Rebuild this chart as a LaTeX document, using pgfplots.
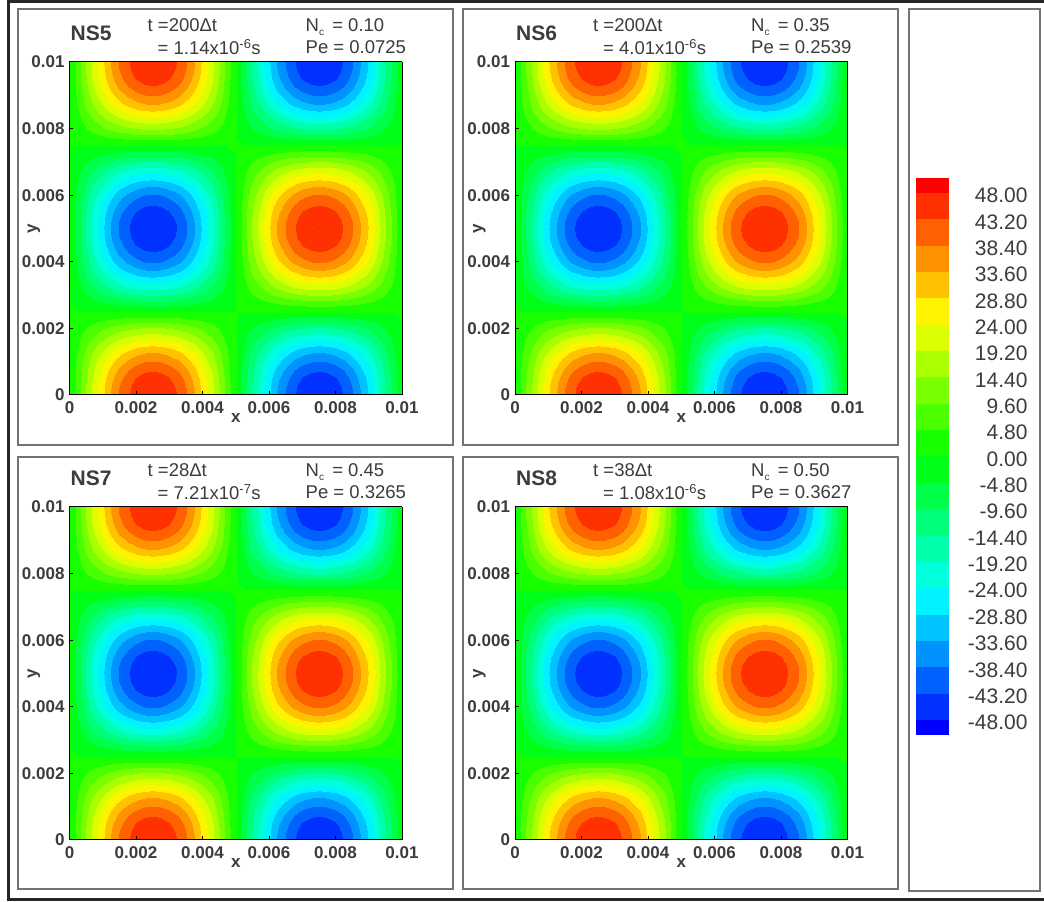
\documentclass[border=0pt]{standalone}
\usepackage{fontspec}
\setmainfont{Liberation Sans}
\usepackage{pgfplots}
\usepackage{pgfplotstable}
\pgfplotsset{compat=1.18}
\definecolor{txt}{RGB}{60,60,60}
\definecolor{frm}{RGB}{115,115,115}
% half rows of the field (x from 0 to just under 0.005), one per |cos| level; N = negated H
\def\Ha{0\\1.18\\2.32\\3.41\\4.41\\5.31\\6.08\\6.69\\7.14\\7.42\\7.51\\7.42\\7.14\\6.69\\6.08\\5.31\\4.41\\3.41\\2.32\\1.18\\}
\def\Na{0\\-1.18\\-2.32\\-3.41\\-4.41\\-5.31\\-6.08\\-6.69\\-7.14\\-7.42\\-7.51\\-7.42\\-7.14\\-6.69\\-6.08\\-5.31\\-4.41\\-3.41\\-2.32\\-1.18\\}
\def\Hb{0\\2.32\\4.58\\6.73\\8.72\\10.49\\12\\13.22\\14.11\\14.65\\14.83\\14.65\\14.11\\13.22\\12\\10.49\\8.72\\6.73\\4.58\\2.32\\}
\def\Nb{0\\-2.32\\-4.58\\-6.73\\-8.72\\-10.49\\-12\\-13.22\\-14.11\\-14.65\\-14.83\\-14.65\\-14.11\\-13.22\\-12\\-10.49\\-8.72\\-6.73\\-4.58\\-2.32\\}
\def\Hc{0\\3.41\\6.73\\9.89\\12.81\\15.41\\17.63\\19.42\\20.73\\21.52\\21.79\\21.52\\20.73\\19.42\\17.63\\15.41\\12.81\\9.89\\6.73\\3.41\\}
\def\Nc{0\\-3.41\\-6.73\\-9.89\\-12.81\\-15.41\\-17.63\\-19.42\\-20.73\\-21.52\\-21.79\\-21.52\\-20.73\\-19.42\\-17.63\\-15.41\\-12.81\\-9.89\\-6.73\\-3.41\\}
\def\Hd{0\\4.41\\8.72\\12.81\\16.58\\19.95\\22.83\\25.14\\26.83\\27.87\\28.21\\27.87\\26.83\\25.14\\22.83\\19.95\\16.58\\12.81\\8.72\\4.41\\}
\def\Nd{0\\-4.41\\-8.72\\-12.81\\-16.58\\-19.95\\-22.83\\-25.14\\-26.83\\-27.87\\-28.21\\-27.87\\-26.83\\-25.14\\-22.83\\-19.95\\-16.58\\-12.81\\-8.72\\-4.41\\}
\def\He{0\\5.31\\10.49\\15.41\\19.95\\24\\27.46\\30.24\\32.28\\33.52\\33.94\\33.52\\32.28\\30.24\\27.46\\24\\19.95\\15.41\\10.49\\5.31\\}
\def\Ne{0\\-5.31\\-10.49\\-15.41\\-19.95\\-24\\-27.46\\-30.24\\-32.28\\-33.52\\-33.94\\-33.52\\-32.28\\-30.24\\-27.46\\-24\\-19.95\\-15.41\\-10.49\\-5.31\\}
\def\Hf{0\\6.08\\12\\17.63\\22.83\\27.46\\31.42\\34.6\\36.93\\38.35\\38.83\\38.35\\36.93\\34.6\\31.42\\27.46\\22.83\\17.63\\12\\6.08\\}
\def\Nf{0\\-6.08\\-12\\-17.63\\-22.83\\-27.46\\-31.42\\-34.6\\-36.93\\-38.35\\-38.83\\-38.35\\-36.93\\-34.6\\-31.42\\-27.46\\-22.83\\-17.63\\-12\\-6.08\\}
\def\Hg{0\\6.69\\13.22\\19.42\\25.14\\30.24\\34.6\\38.11\\40.68\\42.24\\42.77\\42.24\\40.68\\38.11\\34.6\\30.24\\25.14\\19.42\\13.22\\6.69\\}
\def\Ng{0\\-6.69\\-13.22\\-19.42\\-25.14\\-30.24\\-34.6\\-38.11\\-40.68\\-42.24\\-42.77\\-42.24\\-40.68\\-38.11\\-34.6\\-30.24\\-25.14\\-19.42\\-13.22\\-6.69\\}
\def\Hh{0\\7.14\\14.11\\20.73\\26.83\\32.28\\36.93\\40.68\\43.42\\45.09\\45.65\\45.09\\43.42\\40.68\\36.93\\32.28\\26.83\\20.73\\14.11\\7.14\\}
\def\Nh{0\\-7.14\\-14.11\\-20.73\\-26.83\\-32.28\\-36.93\\-40.68\\-43.42\\-45.09\\-45.65\\-45.09\\-43.42\\-40.68\\-36.93\\-32.28\\-26.83\\-20.73\\-14.11\\-7.14\\}
\def\Hi{0\\7.42\\14.65\\21.52\\27.87\\33.52\\38.35\\42.24\\45.09\\46.83\\47.41\\46.83\\45.09\\42.24\\38.35\\33.52\\27.87\\21.52\\14.65\\7.42\\}
\def\Ni{0\\-7.42\\-14.65\\-21.52\\-27.87\\-33.52\\-38.35\\-42.24\\-45.09\\-46.83\\-47.41\\-46.83\\-45.09\\-42.24\\-38.35\\-33.52\\-27.87\\-21.52\\-14.65\\-7.42\\}
\def\Hj{0\\7.51\\14.83\\21.79\\28.21\\33.94\\38.83\\42.77\\45.65\\47.41\\48\\47.41\\45.65\\42.77\\38.83\\33.94\\28.21\\21.79\\14.83\\7.51\\}
\def\Nj{0\\-7.51\\-14.83\\-21.79\\-28.21\\-33.94\\-38.83\\-42.77\\-45.65\\-47.41\\-48\\-47.41\\-45.65\\-42.77\\-38.83\\-33.94\\-28.21\\-21.79\\-14.83\\-7.51\\}
\def\Zr{0\\0\\0\\0\\0\\0\\0\\0\\0\\0\\0\\0\\0\\0\\0\\0\\0\\0\\0\\0\\}
\begingroup\let\\\relax
\edef\x{\endgroup\noexpand\pgfplotstableread[header=false,row sep=\noexpand\\]{%
\Hj\Nj 0\\ \Hi\Ni 0\\ \Hh\Nh 0\\ \Hg\Ng 0\\ \Hf\Nf 0\\ \He\Ne 0\\ \Hd\Nd 0\\ \Hc\Nc 0\\ \Hb\Nb 0\\ \Ha\Na 0\\
\Zr\Zr 0\\
\Na\Ha 0\\ \Nb\Hb 0\\ \Nc\Hc 0\\ \Nd\Hd 0\\ \Ne\He 0\\ \Nf\Hf 0\\ \Ng\Hg 0\\ \Nh\Hh 0\\ \Ni\Hi 0\\ \Nj\Hj 0\\
\Ni\Hi 0\\ \Nh\Hh 0\\ \Ng\Hg 0\\ \Nf\Hf 0\\ \Ne\He 0\\ \Nd\Hd 0\\ \Nc\Hc 0\\ \Nb\Hb 0\\ \Na\Ha 0\\
\Zr\Zr 0\\
\Ha\Na 0\\ \Hb\Nb 0\\ \Hc\Nc 0\\ \Hd\Nd 0\\ \He\Ne 0\\ \Hf\Nf 0\\ \Hg\Ng 0\\ \Hh\Nh 0\\ \Hi\Ni 0\\ \Hj\Nj 0\\
}\noexpand\field}\x
% band colours, bottom to top
\definecolor{b0}{RGB}{0,0,255}\definecolor{b1}{RGB}{0,49,255}\definecolor{b2}{RGB}{0,97,255}\definecolor{b3}{RGB}{0,146,255}
\definecolor{b4}{RGB}{0,194,255}\definecolor{b5}{RGB}{0,243,255}\definecolor{b6}{RGB}{0,255,219}\definecolor{b7}{RGB}{0,255,170}
\definecolor{b8}{RGB}{0,255,121}\definecolor{b9}{RGB}{0,255,73}\definecolor{b10}{RGB}{0,255,24}\definecolor{b11}{RGB}{24,255,0}
\definecolor{b12}{RGB}{73,255,0}\definecolor{b13}{RGB}{121,255,0}\definecolor{b14}{RGB}{170,255,0}\definecolor{b15}{RGB}{219,255,0}
\definecolor{b16}{RGB}{255,243,0}\definecolor{b17}{RGB}{255,194,0}\definecolor{b18}{RGB}{255,146,0}\definecolor{b19}{RGB}{255,97,0}
\definecolor{b20}{RGB}{255,49,0}\definecolor{b21}{RGB}{255,0,0}
\pgfplotsset{
  colormap={tec}{color=(b0) color=(b1) color=(b2) color=(b3) color=(b4) color=(b5) color=(b6) color=(b7) color=(b8) color=(b9) color=(b10) color=(b11) color=(b12) color=(b13) color=(b14) color=(b15) color=(b16) color=(b17) color=(b18) color=(b19) color=(b20) color=(b21)},
  fieldaxis/.style={
    scale only axis, width=332.5pt, height=333pt, anchor=south west,
    xmin=0,xmax=0.01,ymin=0,ymax=0.01, view={0}{90}, scaled ticks=false,
    axis on top, axis line style={line width=1pt,black},
    xtick={0,0.002,0.004,0.006,0.008,0.01}, ytick={0,0.002,0.004,0.006,0.008,0.01},
    xticklabels={0,0.002,0.004,0.006,0.008,0.01}, yticklabels={0,0.002,0.004,0.006,0.008,0.01},
    tick align=inside, major tick length=4pt, tick style={black,line width=1pt}, xtick pos=bottom, ytick pos=left,
    tick label style={font=\bfseries\fontsize{17}{17}\selectfont,text=txt},
    xticklabel style={yshift=-3pt}, yticklabel style={xshift=-1.5pt},
    xlabel={x}, ylabel={y},
    label style={font=\bfseries\fontsize{17}{17}\selectfont,text=txt},
    xlabel style={at={(axis description cs:0.5,-0.069)},anchor=center},
    ylabel style={at={(axis description cs:-0.107,0.5)},anchor=center},
    colormap name=tec, colormap access=piecewise constant,
    point meta min=-52.8, point meta max=52.8,
  }
}
\newcommand\fieldplot{\addplot3[surf,shader=interp,mesh/cols=41,mesh/rows=41,mesh/ordering=x varies]
   table[x index=0,y index=0,z index=0,x expr={(\coordindex-41*floor((\coordindex+0.5)/41))*0.00025},y expr={floor((\coordindex+0.5)/41)*0.00025}]{\field};}
\newcommand\panel[7]{%
  \begin{axis}[fieldaxis,at={(#1pt,#2pt)}]\fieldplot\end{axis}
  \node[anchor=west,font=\bfseries\fontsize{21}{21}\selectfont,text=txt,inner sep=0pt] at (#1+1,#2+362) {#3};
  \node[anchor=west,font=\fontsize{18.5}{18.5}\selectfont,text=txt,inner sep=0pt] at (#1+78,#2+370) {t =#4Δt};
  \node[anchor=west,font=\fontsize{18.5}{18.5}\selectfont,text=txt,inner sep=0pt] at (#1+88,#2+348) {= #5s};
  \node[anchor=west,font=\fontsize{18.5}{18.5}\selectfont,text=txt,inner sep=0pt] at (#1+236,#2+368) {N\raisebox{-4pt}{\fontsize{10}{10}\selectfont c}\, = #6};
  \node[anchor=west,font=\fontsize{18.5}{18.5}\selectfont,text=txt,inner sep=0pt] at (#1+236,#2+348) {Pe = #7};
}
\begin{document}
\begin{tikzpicture}[x=1pt,y=1pt]
\path[use as bounding box,fill=white] (0,0) rectangle (1044,902);
\draw[black!85,line width=3pt] (1050,900.5) -- (8.5,900.5) -- (8.5,2.5) -- (1050,2.5);
\draw[frm,line width=1.5pt] (18,457) rectangle (453,893);
\draw[frm,line width=1.5pt] (463,457) rectangle (898,893);
\draw[frm,line width=1.5pt] (18,13) rectangle (453,445);
\draw[frm,line width=1.5pt] (463,13) rectangle (898,445);
\draw[frm,line width=1.5pt] (909,11) rectangle (1040,893);
\panel{69.5}{507}{NS5}{200}{1.14x10\textsuperscript{-6}}{0.10}{0.0725}
\panel{515}{507}{NS6}{200}{4.01x10\textsuperscript{-6}}{0.35}{0.2539}
\panel{69.5}{62}{NS7}{28}{7.21x10\textsuperscript{-7}}{0.45}{0.3265}
\panel{515}{62}{NS8}{38}{1.08x10\textsuperscript{-6}}{0.50}{0.3627}
\begin{axis}[at={(916pt,167pt)},anchor=south west,scale only axis,width=33pt,height=557pt,
  xmin=0,xmax=1,ymin=-50.73,ymax=50.73,axis line style={draw=none},xtick=\empty,
  ytick={-48,-43.2,-38.4,-33.6,-28.8,-24,-19.2,-14.4,-9.6,-4.8,0,4.8,9.6,14.4,19.2,24,28.8,33.6,38.4,43.2,48},
  yticklabels={-48.00,-43.20,-38.40,-33.60,-28.80,-24.00,-19.20,-14.40,-9.60,-4.80,0.00,4.80,9.60,14.40,19.20,24.00,28.80,33.60,38.40,43.20,48.00},
  ytick pos=right,tick style={draw=none},
  yticklabel style={anchor=east,xshift=82pt,yshift=-2.5pt,font=\fontsize{21}{21}\selectfont,text=txt}]
\addplot[fill=b0,draw=none] coordinates {(0,-50.73)(1,-50.73)(1,-48)(0,-48)} -- cycle;
\addplot[fill=b1,draw=none] coordinates {(0,-48)(1,-48)(1,-43.2)(0,-43.2)} -- cycle;
\addplot[fill=b2,draw=none] coordinates {(0,-43.2)(1,-43.2)(1,-38.4)(0,-38.4)} -- cycle;
\addplot[fill=b3,draw=none] coordinates {(0,-38.4)(1,-38.4)(1,-33.6)(0,-33.6)} -- cycle;
\addplot[fill=b4,draw=none] coordinates {(0,-33.6)(1,-33.6)(1,-28.8)(0,-28.8)} -- cycle;
\addplot[fill=b5,draw=none] coordinates {(0,-28.8)(1,-28.8)(1,-24)(0,-24)} -- cycle;
\addplot[fill=b6,draw=none] coordinates {(0,-24)(1,-24)(1,-19.2)(0,-19.2)} -- cycle;
\addplot[fill=b7,draw=none] coordinates {(0,-19.2)(1,-19.2)(1,-14.4)(0,-14.4)} -- cycle;
\addplot[fill=b8,draw=none] coordinates {(0,-14.4)(1,-14.4)(1,-9.6)(0,-9.6)} -- cycle;
\addplot[fill=b9,draw=none] coordinates {(0,-9.6)(1,-9.6)(1,-4.8)(0,-4.8)} -- cycle;
\addplot[fill=b10,draw=none] coordinates {(0,-4.8)(1,-4.8)(1,0)(0,0)} -- cycle;
\addplot[fill=b11,draw=none] coordinates {(0,0)(1,0)(1,4.8)(0,4.8)} -- cycle;
\addplot[fill=b12,draw=none] coordinates {(0,4.8)(1,4.8)(1,9.6)(0,9.6)} -- cycle;
\addplot[fill=b13,draw=none] coordinates {(0,9.6)(1,9.6)(1,14.4)(0,14.4)} -- cycle;
\addplot[fill=b14,draw=none] coordinates {(0,14.4)(1,14.4)(1,19.2)(0,19.2)} -- cycle;
\addplot[fill=b15,draw=none] coordinates {(0,19.2)(1,19.2)(1,24)(0,24)} -- cycle;
\addplot[fill=b16,draw=none] coordinates {(0,24)(1,24)(1,28.8)(0,28.8)} -- cycle;
\addplot[fill=b17,draw=none] coordinates {(0,28.8)(1,28.8)(1,33.6)(0,33.6)} -- cycle;
\addplot[fill=b18,draw=none] coordinates {(0,33.6)(1,33.6)(1,38.4)(0,38.4)} -- cycle;
\addplot[fill=b19,draw=none] coordinates {(0,38.4)(1,38.4)(1,43.2)(0,43.2)} -- cycle;
\addplot[fill=b20,draw=none] coordinates {(0,43.2)(1,43.2)(1,48)(0,48)} -- cycle;
\addplot[fill=b21,draw=none] coordinates {(0,48)(1,48)(1,50.73)(0,50.73)} -- cycle;
\end{axis}
\end{tikzpicture}
\end{document}
